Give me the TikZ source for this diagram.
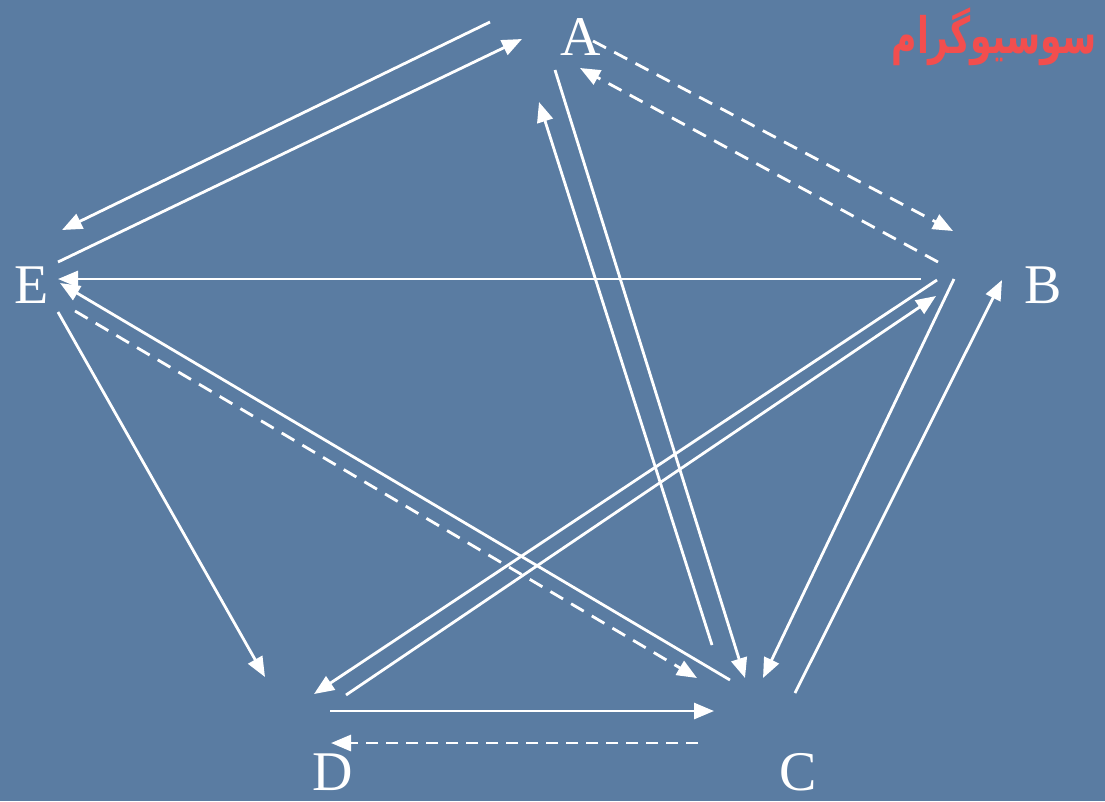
\documentclass[tikz,border=0pt]{standalone}
\usepackage{fontspec}
\setmainfont{Liberation Serif}
\newfontfamily\arabicfont[Script=Arabic]{DejaVu Sans}
\TeXXeTstate=1
\usetikzlibrary{arrows.meta}
\definecolor{bgblue}{RGB}{90,124,162}
\definecolor{titlered}{RGB}{242,78,78}
\tikzset{
  lbl/.style={text=white,font=\fontsize{42}{48}\selectfont,inner sep=0pt},
  conn/.style={white,line width=2.1pt,-{Triangle[length=15pt,width=12pt]}},
  dconn/.style={conn,dash pattern=on 11pt off 7pt},
  dconns/.style={conn,dash pattern=on 9pt off 6pt}
}
\begin{document}
\begin{tikzpicture}[x=0.75pt,y=-0.75pt]
\fill[bgblue] (0,0) rectangle (1105,801);
\useasboundingbox (0,0) rectangle (1105,801);
\node[lbl] (A) at (581,37) {A};
\node[lbl] (B) at (1043,285) {B};
\node[lbl] (C) at (798,772) {C};
\node[lbl] (D) at (333,772) {D};
\node[lbl] (E) at (32,285) {E};
\node[text=titlered,inner sep=0pt] (T) at (994,37) {\scalebox{1}[1.45]{\arabicfont\bfseries\fontsize{26}{30}\selectfont\beginR سوسیوگرام\endR}};
% endpoints
\coordinate (a1) at (490,22);  \coordinate (e1) at (62,230);
\coordinate (e2) at (58,262);  \coordinate (a2) at (522,39);
\coordinate (a3) at (593,41);  \coordinate (b3) at (953,231);
\coordinate (b4) at (938,262); \coordinate (a4) at (580,68);
\coordinate (c5) at (712,645); \coordinate (a5) at (539,102);
\coordinate (a6) at (555,70);  \coordinate (c6) at (745,678);
\coordinate (b7) at (954,279); \coordinate (c7) at (763,678);
\coordinate (c8) at (795,693); \coordinate (b8) at (1002,280);
\coordinate (b9) at (921,279); \coordinate (e9) at (58,279);
\coordinate (b10) at (937,280); \coordinate (d10) at (314,694);
\coordinate (d11) at (346,695); \coordinate (b11) at (936,296);
\coordinate (c12) at (730,680); \coordinate (e12) at (60,283);
\coordinate (e13) at (75,311); \coordinate (c13) at (697,678);
\coordinate (e14) at (58,312); \coordinate (d14) at (265,677);
\coordinate (d15) at (330,711); \coordinate (c15) at (714,711);
\coordinate (c16) at (698,743); \coordinate (d16) at (331,743);
% connectors
\draw[conn] (a1) -- (e1);
\draw[conn] (e2) -- (a2);
\draw[dconn] (a3) -- (b3);
\draw[dconn] (b4) -- (a4);
\draw[conn] (c5) -- (a5);
\draw[conn] (a6) -- (c6);
\draw[conn] (b7) -- (c7);
\draw[conn] (c8) -- (b8);
\draw[conn] (b9) -- (e9);
\draw[conn] (b10) -- (d10);
\draw[conn] (d11) -- (b11);
\draw[conn] (c12) -- (e12);
\draw[dconn] (e13) -- (c13);
\draw[conn] (e14) -- (d14);
\draw[conn] (d15) -- (c15);
\draw[dconns] (c16) -- (d16);
\end{tikzpicture}
\end{document}
